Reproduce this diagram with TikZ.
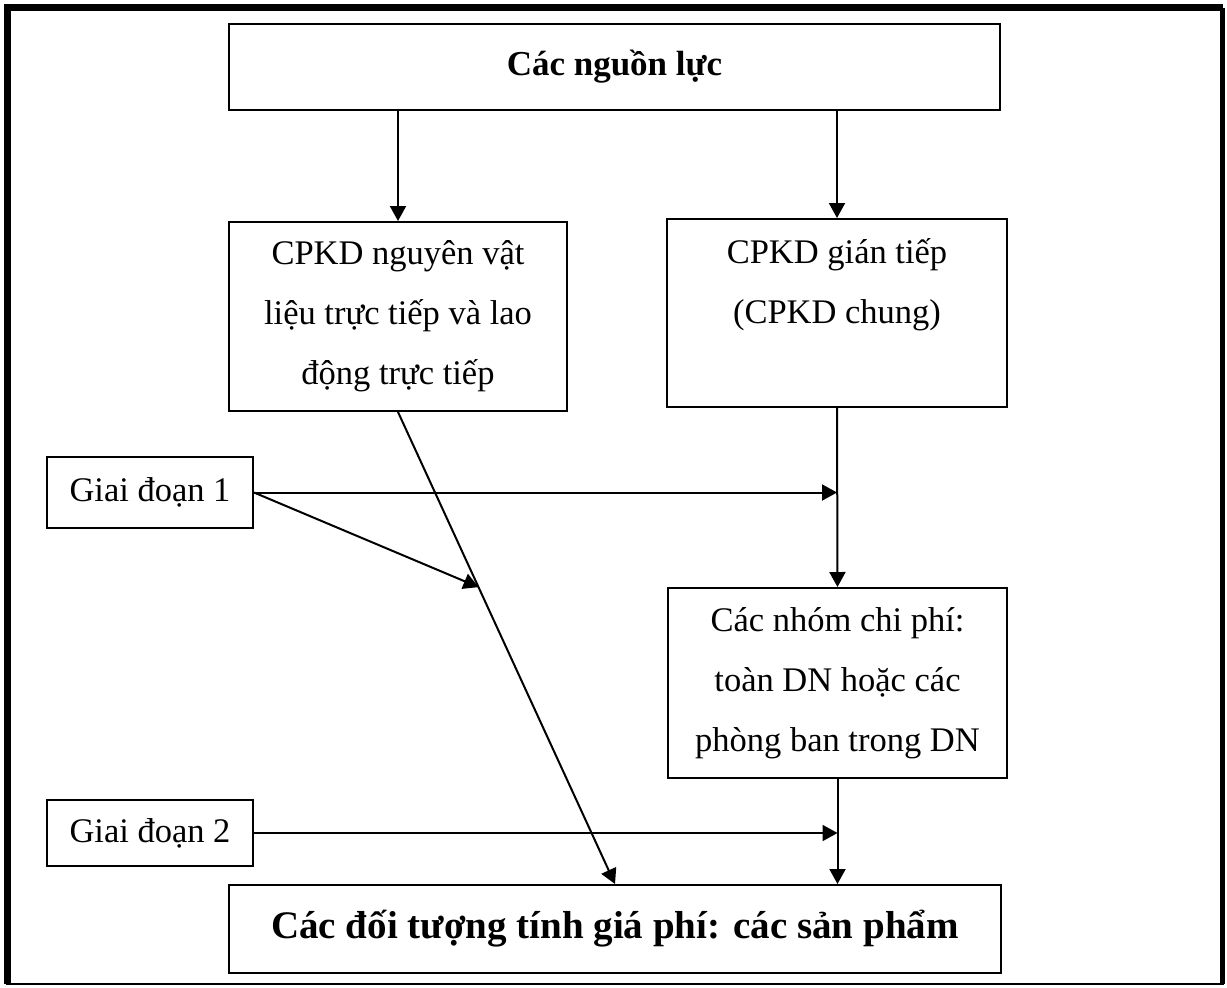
\documentclass[tikz,border=0pt]{standalone}
\usepackage{fontspec}
\setmainfont{Liberation Serif}
\usetikzlibrary{arrows.meta, calc}

\tikzset{
	box/.style={draw, line width=1pt, align=center, inner sep=0pt,
		font=\fontsize{17.25}{30}\selectfont},
	boldbox/.style={box, font=\fontsize{17.5}{30}\selectfont\bfseries},
	txt/.style={align=center, inner sep=0pt, font=\fontsize{17.25}{30}\selectfont},
	arr/.style={line width=1pt, -{Triangle[length=7.5pt, width=8pt]}}
}

\begin{document}
\begin{tikzpicture}[x=0.5pt, y=-0.5pt]
		\useasboundingbox (0, 0) rectangle (1227, 987);
		% Outer frame
		\draw[line width=3.5pt, line join=miter] (7.5, 984) -- (7.5, 7.5) -- (1222.5, 7.5);
		\draw[line width=2.5pt] (1222.5, 7.5) -- (1222.5, 984);
		\draw[line width=1pt] (1223.5, 984) -- (6, 984);
		
		% Boxes
		\node[boldbox, minimum width=385.5pt, minimum height=43pt] (nguon) at (614.5, 67) {Các nguồn lực};
		\node[box, minimum width=169pt, minimum height=94.5pt] (cptt) at (398, 316.5)
		{CPKD nguyên vật\\liệu trực tiếp và lao\\động trực tiếp};
		\node[box, minimum width=170pt, minimum height=94pt] (cpgt) at (837, 313) {};
		\node[txt, anchor=north] (cpgtlbl) at ([yshift=-10pt]cpgt.north) {CPKD gián tiếp\\(CPKD chung)};
		\node[box, minimum width=103pt, minimum height=35.5pt] (gd1) at (150, 492.5) {Giai đoạn 1};
		\node[box, minimum width=169.5pt, minimum height=95pt] (nhom) at (837.5, 683)
		{Các nhóm chi phí:\\toàn DN hoặc các\\phòng ban trong DN};
		\node[box, minimum width=103pt, minimum height=33pt] (gd2) at (150, 833) {Giai đoạn 2};
		\node[boldbox, font=\fontsize{19.5}{30}\selectfont\bfseries, minimum width=386pt, minimum height=44pt]
		(doituong) at (615, 929) {Các đối tượng tính giá phí: các sản phẩm};
		
		% Arrows
		\draw[arr] (nguon.south -| cptt.north) -- (cptt.north);
		\draw[arr] (nguon.south -| cpgt.north) -- (cpgt.north);
		\draw[arr] (cpgt.south) -- (nhom.north);
		\draw[arr] (nhom.south) -- (doituong.north -| nhom.south);
		\draw[arr] (cptt.south) -- (doituong.north);
		\coordinate (hit) at ($(cptt.south)!0.371!(doituong.north)$);
		\draw[arr] (gd1.east) -- (gd1.east -| cpgt.south);
		\draw[arr] (gd1.east) -- (hit);
		\draw[arr] (gd2.east) -- (gd2.east -| nhom.south);
	\end{tikzpicture}
\end{document}
